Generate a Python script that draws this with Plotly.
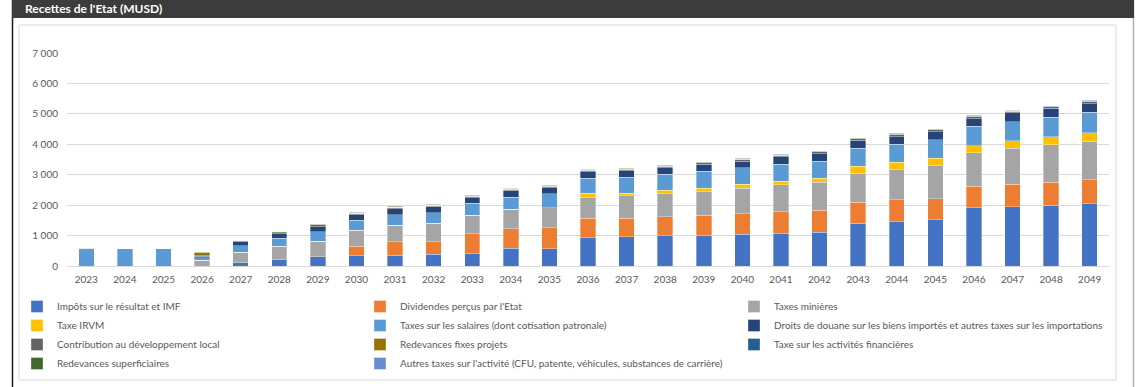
import plotly.graph_objects as go

years = [str(y) for y in range(2023, 2050)]

impots = [0, 0, 0, 0, 99, 209, 308, 335, 350, 383, 405, 578, 572, 931, 964, 990, 1017, 1050, 1083, 1116, 1411, 1455, 1523, 1918, 1951, 1995, 2050]
dividendes = [0, 0, 0, 0, 0, 0, 0, 307, 449, 416, 657, 646, 679, 646, 613, 630, 656, 667, 700, 722, 678, 717, 690, 701, 734, 756, 778]
minieres = [0, 0, 0, 187, 352, 440, 506, 532, 537, 602, 602, 635, 657, 690, 734, 760, 788, 842, 886, 919, 963, 990, 1085, 1107, 1184, 1228, 1271]
irvm = [0, 0, 0, 0, 0, 0, 0, 0, 0, 0, 0, 0, 0, 131, 88, 110, 98, 120, 109, 120, 219, 246, 241, 230, 241, 274, 285]
salaires = [565, 580, 580, 77, 209, 264, 308, 335, 350, 350, 394, 405, 471, 493, 526, 520, 547, 547, 558, 558, 591, 597, 603, 636, 636, 636, 669]
douane = [0, 0, 0, 55, 154, 143, 176, 181, 197, 208, 186, 219, 197, 208, 208, 219, 230, 219, 252, 252, 263, 241, 274, 252, 296, 300, 274]
contribution = [0, 0, 0, 10, 25, 45, 50, 45, 45, 40, 50, 45, 50, 50, 50, 50, 50, 60, 50, 60, 50, 65, 60, 65, 50, 50, 70]
fixes = [20, 0, 0, 110, 0, 0, 0, 0, 0, 0, 0, 0, 0, 0, 0, 0, 0, 0, 0, 0, 0, 0, 0, 0, 0, 0, 0]
financieres = [0, 0, 0, 0, 0, 0, 0, 0, 10, 0, 15, 10, 12, 15, 15, 12, 15, 20, 15, 15, 15, 20, 15, 20, 12, 12, 20]
superficiaires = [10, 10, 10, 20, 15, 20, 25, 20, 25, 25, 20, 12, 12, 10, 10, 8, 10, 12, 10, 10, 10, 12, 12, 12, 8, 8, 15]
autres = [0, 5, 5, 2, 4, 10, 10, 15, 10, 12, 14, 10, 14, 13, 13, 10, 13, 17, 13, 13, 13, 12, 12, 13, 7, 7, 16]

series = [
    ("Impôts sur le résultat et IMF", impots, "#4472C4", "legend"),
    ("Dividendes perçus par l'Etat", dividendes, "#ED7D31", "legend2"),
    ("Taxes minières", minieres, "#A5A5A5", "legend3"),
    ("Taxe IRVM", irvm, "#FFC000", "legend"),
    ("Taxes sur les salaires (dont cotisation patronale)", salaires, "#5B9BD5", "legend2"),
    ("Droits de douane sur les biens importés et autres taxes sur les importations", douane, "#264478", "legend3"),
    ("Contribution au développement local", contribution, "#636363", "legend"),
    ("Redevances fixes projets", fixes, "#997300", "legend2"),
    ("Taxe sur les activités financières", financieres, "#255E91", "legend3"),
    ("Redevances superficiaires", superficiaires, "#43682B", "legend"),
    ("Autres taxes sur l'activité (CFU, patente, véhicules, substances de carrière)", autres, "#698ED0", "legend2"),
]

W, H = 1136, 387
L, R, T, B = 67, 27, 53, 121
pw, ph = W - L - R, H - T - B

def px(x):
    return (x - L) / pw

def py(y):
    return 1 - (y - T) / ph

fig = go.Figure()
for name, vals, color, leg in series:
    fig.add_trace(go.Bar(
        x=years, y=vals, name=name, legend=leg,
        marker=dict(color=color, line=dict(color="rgba(255,255,255,0.55)", width=0.6)),
    ))

font = "Lato, 'Open Sans', sans-serif"
legend_common = dict(
    orientation="v", xref="paper", yref="paper", xanchor="left", yanchor="top",
    font=dict(family=font, size=10, color="#595959"),
    bgcolor="rgba(0,0,0,0)", traceorder="normal", tracegroupgap=0,
    itemclick=False, itemdoubleclick=False, borderwidth=0,
)
ly = py(292)

fig.update_layout(
    width=W, height=H,
    margin=dict(l=L, r=R, t=T, b=B, autoexpand=False),
    barmode="stack", bargap=0.6,
    plot_bgcolor="white", paper_bgcolor="white",
    separators=", ",
    font=dict(family=font, color="#595959", size=10),
    legend=dict(x=px(57 - 40), y=ly, **legend_common),
    legend2=dict(x=px(400 - 40), y=ly, **legend_common),
    legend3=dict(x=px(774 - 40), y=ly, **legend_common),
    xaxis=dict(showgrid=False, showline=True, linecolor="#d9d9d9", linewidth=1,
               ticks="", tickfont=dict(size=10, color="#595959"), ticklabelstandoff=4),
    yaxis=dict(range=[0, 7000], dtick=1000, tickformat=",d", showgrid=True,
               gridcolor="#d9d9d9", gridwidth=1, zeroline=False, showline=False,
               ticks="", tickfont=dict(size=10, color="#595959"), ticklabelstandoff=8),
    shapes=[
        dict(type="line", xref="paper", yref="paper", x0=px(12.5), x1=px(12.5), y0=py(0), y1=py(387),
             line=dict(color="#1a1a1a", width=1.5), layer="below"),
        dict(type="line", xref="paper", yref="paper", x0=px(1133.5), x1=px(1133.5), y0=py(0), y1=py(387),
             line=dict(color="#b0b0b0", width=1.5), layer="below"),
        dict(type="rect", xref="paper", yref="paper", x0=px(12), x1=px(1134), y0=py(0), y1=py(18),
             fillcolor="#3c3c3c", line=dict(width=0), layer="below"),
        dict(type="rect", xref="paper", yref="paper", x0=px(19), x1=px(1116), y0=py(25), y1=py(380),
             fillcolor="rgba(0,0,0,0)", line=dict(color="#d9d9d9", width=1), layer="below"),
    ],
    annotations=[
        dict(text="<b>Recettes de l'Etat (MUSD)</b>", xref="paper", yref="paper",
             x=px(23), y=py(9), xanchor="left", yanchor="middle", showarrow=False,
             font=dict(family=font, size=12, color="white")),
    ],
)

fig.write_html("out.html")
